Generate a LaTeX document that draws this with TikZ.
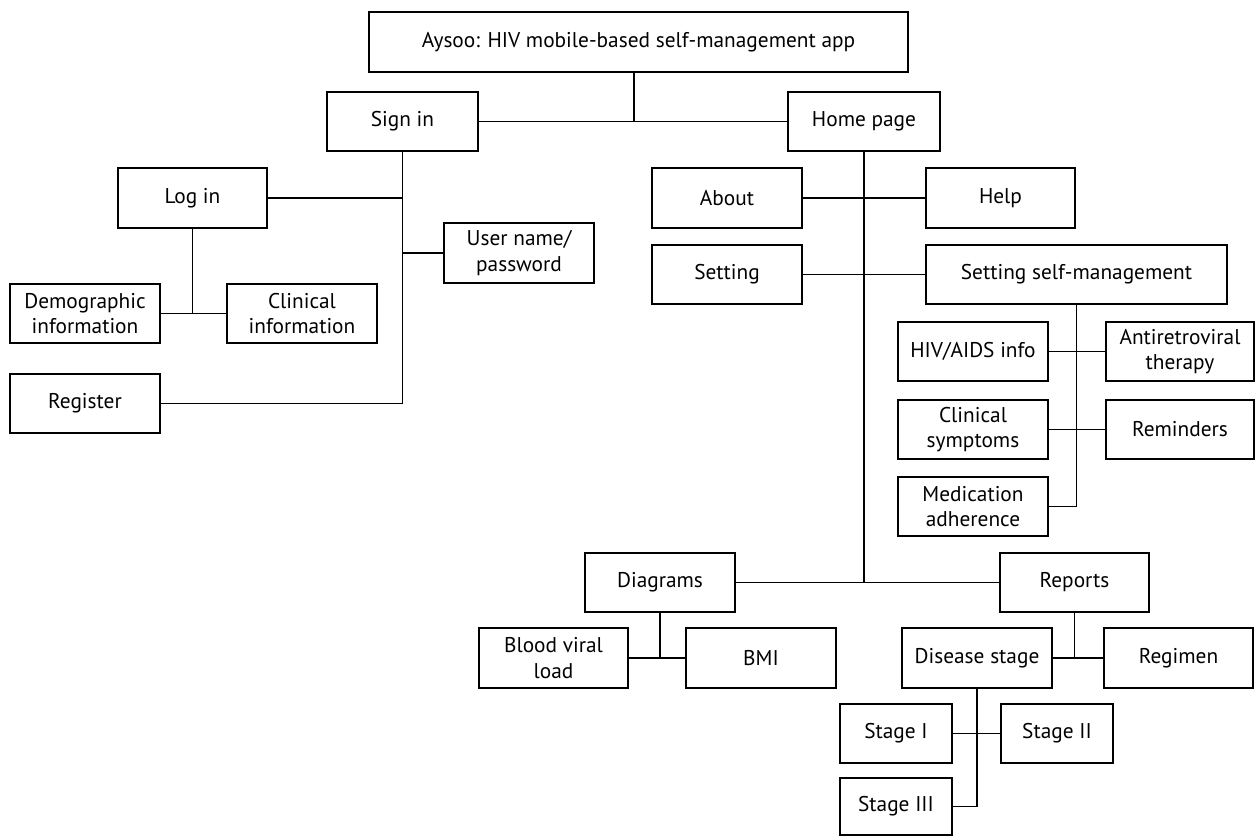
\documentclass[tikz,border=0pt]{standalone}
\usepackage{fontspec}
\setmainfont{PT Sans}
\newcommand\bx[6]{\node[box, minimum width={(#4-#2)*0.75pt}, minimum height={(#5-#3)*0.75pt}] (#1) at ({(#2+#4)/2},{(#3+#5)/2}) {#6};}
\begin{document}
\begin{tikzpicture}[x=0.75pt,y=-0.75pt,
  box/.style={draw, line width=0.9pt, align=center, inner sep=0pt, font=\fontsize{16pt}{19pt}\selectfont},
  conn/.style={line width=0.9pt}]
\useasboundingbox (0,0) rectangle (1257,836);
\bx{title}{369}{12}{908}{72}{Aysoo: HIV mobile-based self-management app}
\bx{signin}{327}{92}{478}{151}{Sign in}
\bx{home}{788}{92}{940}{151}{Home page}
\bx{login}{118}{168}{267}{228}{Log in}
\bx{user}{444}{223}{594}{283}{User name/\\password}
\bx{demo}{10}{284}{160}{343}{Demographic\\information}
\bx{clin}{227}{284}{377}{343}{Clinical\\information}
\bx{register}{10}{374}{160}{433}{Register}
\bx{about}{652}{168}{802}{228}{About}
\bx{help}{926}{168}{1075}{228}{Help}
\bx{setting}{652}{245}{802}{304}{Setting}
\bx{ssm}{926}{245}{1227}{304}{Setting self-management}
\bx{hiv}{898}{322}{1048}{381}{HIV/AIDS info}
\bx{art}{1106}{322}{1254}{381}{Antiretroviral\\therapy}
\bx{cs}{898}{400}{1048}{459}{Clinical\\symptoms}
\bx{rem}{1106}{400}{1254}{459}{Reminders}
\bx{med}{898}{477}{1048}{536}{Medication\\adherence}
\bx{diag}{585}{553}{735}{612}{Diagrams}
\bx{rep}{1000}{553}{1149}{612}{Reports}
\bx{bvl}{479}{628}{628}{688}{Blood viral\\load}
\bx{bmi}{686}{628}{836}{688}{BMI}
\bx{ds}{902}{628}{1052}{688}{Disease stage}
\bx{reg}{1104}{628}{1253}{688}{Regimen}
\bx{sI}{840}{704}{952}{763}{Stage I}
\bx{sII}{1001}{704}{1113}{763}{Stage II}
\bx{sIII}{840}{778}{952}{835}{Stage III}
\coordinate (tj) at (634,121);
\draw[conn] (tj |- title.south) -- (tj);
\draw[conn] (signin.east) -- (home.west);
\draw[conn] (signin.south) -- (register.east -| signin.south) -- (register.east);
\draw[conn] (login.east) -- (login.east -| signin.south);
\draw[conn] (user.west) -- (user.west -| signin.south);
\draw[conn] (login.south) -- (demo.east -| login.south);
\draw[conn] (demo.east) -- (clin.west);
\draw[conn] (home.south) -- (diag.east -| home.south);
\draw[conn] (about.east) -- (help.west);
\draw[conn] (setting.east) -- (ssm.west);
\draw[conn] (diag.east) -- (rep.west);
\draw[conn] (ssm.south) -- (med.east -| ssm.south) -- (med.east);
\draw[conn] (hiv.east) -- (art.west);
\draw[conn] (cs.east) -- (rem.west);
\draw[conn] (diag.south) -- (bvl.east -| diag.south);
\draw[conn] (bvl.east) -- (bmi.west);
\draw[conn] (rep.south) -- (ds.east -| rep.south);
\draw[conn] (ds.east) -- (reg.west);
\draw[conn] (ds.south) -- (sIII.east -| ds.south) -- (sIII.east);
\draw[conn] (sI.east) -- (sII.west);
\end{tikzpicture}
\end{document}
